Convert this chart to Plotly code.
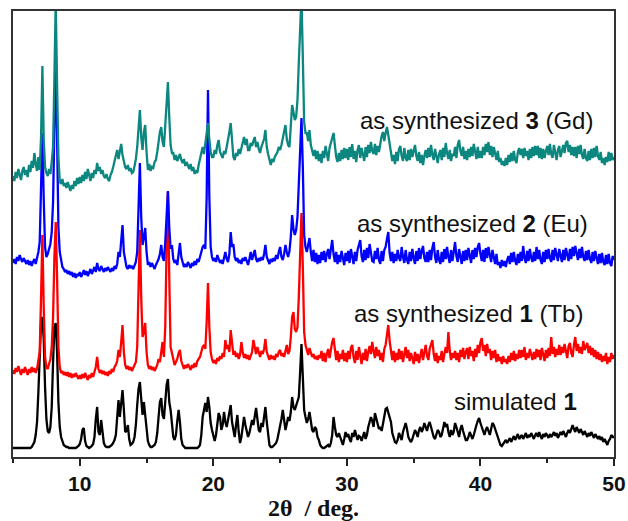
import numpy as np
import plotly.graph_objects as go

# 2-theta grid (degrees), 0.1 deg step, 5..50
two_theta = np.round(np.arange(5.0, 50.0001, 0.1), 1)

# Intensities (stacked, arbitrary units)
gd_counts = [
    281, 276, 285, 279, 288, 283, 277, 286, 290, 282,
    287, 280, 292, 285, 296, 289, 304, 293, 286, 300,
    287, 320, 391, 318, 290, 284, 281, 288, 283, 295,
    310, 380, 455, 372, 300, 276, 273, 278, 271, 274,
    269, 275, 270, 266, 272, 268, 276, 271, 279, 273,
    280, 274, 282, 276, 285, 278, 288, 280, 276, 284,
    279, 287, 283, 294, 286, 290, 283, 287, 281, 279,
    283, 278, 276, 282, 285, 290, 296, 300, 307, 298,
    305, 313, 302, 296, 290, 288, 292, 286, 289, 284,
    285, 291, 298, 310, 330, 347, 320, 307, 325, 332,
    305, 287, 293, 286, 290, 289, 295, 297, 305, 318,
    325, 330, 315, 310, 330, 360, 375, 340, 312, 304,
    304, 297, 302, 296, 300, 303, 297, 294, 298, 291,
    295, 292, 288, 293, 286, 290, 283, 287, 284, 292,
    298, 305, 310, 303, 315, 325, 334, 318, 305, 300,
    300, 307, 303, 312, 317, 305, 301, 299, 306, 303,
    310, 316, 325, 334, 312, 300, 297, 304, 301, 308,
    303, 310, 315, 320, 312, 318, 307, 307, 314, 311,
    316, 320, 310, 315, 308, 304, 310, 315, 318, 327,
    310, 303, 296, 292, 298, 295, 300, 303, 305, 310,
    307, 312, 318, 325, 332, 318, 312, 310, 330, 352,
    345, 337, 340, 357, 395, 440, 460, 400, 335, 324,
    324, 316, 327, 312, 306, 301, 307, 298, 306, 296,
    303, 294, 306, 299, 311, 301, 296, 309, 313, 319,
    324, 308, 300, 295, 304, 296, 307, 298, 309, 299,
    308, 297, 310, 300, 313, 298, 306, 295, 307, 312,
    299, 309, 301, 296, 310, 300, 312, 304, 315, 306,
    303, 313, 302, 311, 305, 316, 321, 325, 316, 324,
    330, 322, 314, 303, 296, 302, 293, 305, 296, 308,
    311, 301, 296, 309, 299, 296, 307, 297, 308, 300,
    306, 312, 301, 296, 305, 294, 302, 292, 301, 307,
    299, 309, 300, 312, 302, 297, 308, 299, 294, 303,
    307, 297, 309, 300, 314, 304, 298, 307, 296, 303,
    301, 310, 299, 312, 317, 306, 301, 310, 298, 306,
    297, 308, 300, 310, 301, 313, 304, 298, 310, 299,
    306, 299, 310, 302, 313, 305, 315, 302, 311, 300,
    310, 301, 297, 306, 295, 299, 292, 296, 291, 299,
    292, 302, 295, 304, 296, 306, 297, 294, 305, 309,
    302, 308, 299, 309, 301, 306, 297, 308, 299, 310,
    301, 311, 302, 311, 299, 309, 298, 308, 299, 306,
    311, 302, 313, 303, 299, 312, 303, 297, 307, 311,
    300, 307, 312, 304, 314, 316, 305, 312, 302, 310,
    301, 310, 299, 311, 303, 312, 302, 298, 308, 299,
    296, 306, 297, 308, 299, 309, 300, 311, 301, 297,
    305, 294, 299, 292, 300, 295, 305, 296, 304, 297,
    300,
]

eu_counts = [
    194, 198, 193, 200, 196, 202, 198, 195, 199, 196,
    193, 197, 192, 196, 191, 195, 198, 193, 199, 205,
    215, 262, 324, 258, 210, 200, 203, 208, 213, 225,
    255, 330, 395, 320, 230, 205, 195, 190, 188, 185,
    187, 183, 186, 182, 185, 180, 184, 179, 183, 181,
    185, 180, 183, 187, 182, 186, 181, 184, 188, 183,
    186, 190, 185, 194, 188, 186, 191, 187, 185, 189,
    186, 190, 187, 185, 189, 186, 191, 188, 193, 205,
    200, 215, 232, 205, 195, 190, 188, 192, 189, 191,
    188, 192, 195, 205, 250, 294, 240, 212, 220, 229,
    205, 192, 195, 190, 194, 191, 188, 192, 195, 198,
    203, 212, 200, 196, 215, 245, 266, 230, 208, 212,
    198, 194, 197, 192, 205, 214, 200, 194, 190, 193,
    190, 195, 192, 189, 194, 191, 196, 192, 198, 195,
    200, 205, 210, 212, 208, 260, 367, 260, 210, 200,
    196, 199, 195, 202, 198, 194, 197, 193, 199, 205,
    198, 195, 203, 225, 210, 213, 200, 196, 199, 194,
    197, 193, 199, 196, 200, 195, 192, 198, 205, 197,
    201, 207, 198, 195, 199, 196, 200, 197, 203, 212,
    200, 196, 193, 198, 195, 199, 196, 202, 198, 205,
    210, 200, 197, 203, 212, 205, 200, 206, 220, 242,
    228, 222, 227, 240, 280, 320, 339, 290, 222, 210,
    205, 212, 219, 205, 196, 207, 195, 204, 193, 202,
    194, 205, 197, 206, 195, 203, 208, 198, 210, 217,
    203, 195, 205, 193, 202, 195, 206, 197, 192, 204,
    196, 206, 194, 208, 199, 193, 205, 196, 207, 212,
    217, 201, 195, 207, 197, 209, 199, 213, 203, 196,
    195, 206, 198, 209, 197, 193, 206, 196, 207, 210,
    218, 225, 204, 196, 205, 194, 203, 196, 207, 199,
    196, 210, 200, 194, 207, 197, 193, 205, 196, 208,
    199, 193, 206, 196, 209, 198, 206, 211, 199, 195,
    205, 195, 207, 197, 209, 215, 200, 194, 207, 197,
    193, 205, 195, 208, 198, 210, 200, 194, 207, 196,
    205, 215, 201, 195, 208, 198, 193, 206, 196, 207,
    197, 209, 199, 194, 207, 198, 209, 200, 210, 214,
    203, 196, 207, 195, 209, 199, 210, 200, 195, 207,
    199, 193, 203, 192, 195, 189, 197, 191, 196, 190,
    197, 201, 193, 204, 195, 205, 196, 192, 203, 194,
    205, 196, 211, 199, 194, 206, 196, 208, 199, 195,
    205, 196, 210, 198, 207, 197, 193, 205, 195, 207,
    198, 208, 199, 195, 207, 197, 209, 200, 196, 208,
    199, 195, 207, 197, 209, 201, 196, 208, 198, 210,
    201, 211, 202, 197, 208, 199, 210, 200, 196, 206,
    197, 207, 198, 194, 205, 196, 206, 197, 193, 203,
    194, 204, 195, 192, 202, 193, 203, 194, 191, 201,
    197,
]

tb_counts = [
    87, 83, 89, 85, 91, 86, 82, 88, 84, 90,
    86, 82, 88, 84, 90, 85, 89, 84, 88, 95,
    105, 160, 222, 150, 100, 90, 88, 93, 98, 110,
    140, 200, 235, 180, 110, 90, 84, 86, 82, 85,
    81, 85, 80, 84, 79, 83, 80, 84, 81, 78,
    82, 78, 83, 79, 84, 80, 77, 82, 79, 84,
    80, 85, 90, 100, 88, 84, 87, 83, 86, 82,
    85, 81, 86, 83, 88, 85, 90, 92, 96, 107,
    100, 115, 132, 105, 92, 88, 91, 87, 90, 86,
    89, 92, 95, 110, 170, 227, 160, 120, 125, 134,
    105, 92, 88, 91, 87, 90, 86, 89, 92, 98,
    95, 105, 115, 100, 130, 210, 265, 180, 110, 104,
    96, 92, 95, 98, 104, 107, 96, 91, 88, 92,
    89, 93, 90, 87, 92, 89, 94, 90, 96, 98,
    100, 105, 110, 112, 108, 135, 174, 130, 105, 98,
    94, 97, 93, 99, 96, 101, 98, 104, 100, 117,
    108, 112, 105, 127, 110, 102, 106, 100, 104, 98,
    102, 115, 105, 99, 103, 98, 102, 97, 101, 105,
    117, 108, 103, 110, 104, 100, 106, 103, 108, 118,
    105, 100, 97, 102, 98, 101, 97, 103, 100, 105,
    107, 101, 104, 100, 108, 112, 103, 106, 120, 140,
    145, 128, 125, 130, 160, 210, 244, 190, 125, 112,
    106, 102, 109, 104, 100, 103, 98, 101, 97, 102,
    99, 106, 96, 104, 95, 103, 108, 99, 110, 115,
    119, 104, 97, 106, 95, 103, 98, 107, 96, 104,
    95, 106, 98, 109, 112, 100, 94, 106, 97, 110,
    99, 93, 104, 97, 108, 96, 105, 111, 103, 115,
    106, 99, 110, 101, 107, 97, 104, 95, 108, 112,
    122, 132, 116, 103, 97, 106, 95, 104, 97, 108,
    98, 106, 95, 103, 110, 99, 107, 96, 104, 99,
    93, 105, 96, 103, 94, 101, 108, 97, 106, 112,
    101, 97, 108, 112, 117, 103, 96, 104, 94, 101,
    97, 106, 95, 103, 110, 104, 125, 106, 97, 104,
    99, 106, 97, 104, 95, 107, 100, 109, 98, 105,
    109, 98, 110, 101, 106, 96, 108, 100, 112, 104,
    115, 119, 106, 112, 101, 113, 104, 108, 97, 106,
    99, 107, 95, 103, 96, 100, 93, 101, 95, 98,
    93, 101, 95, 104, 97, 106, 96, 103, 98, 107,
    99, 107, 100, 110, 97, 104, 99, 108, 101, 97,
    105, 98, 108, 100, 107, 97, 109, 101, 96, 107,
    99, 109, 101, 120, 103, 110, 100, 108, 102, 112,
    102, 110, 104, 113, 105, 99, 111, 114, 104, 100,
    112, 120, 106, 113, 104, 110, 103, 116, 107, 111,
    114, 104, 111, 102, 109, 100, 107, 98, 105, 97,
    103, 95, 101, 96, 104, 93, 100, 95, 104, 98,
    102,
]

sim_counts = [
    9, 9, 9, 9, 9, 9, 9, 9, 9, 9,
    9, 9, 9, 9, 10, 12, 15, 22, 35, 65,
    110, 135, 140, 118, 70, 38, 26, 24, 30, 50,
    95, 130, 134, 105, 55, 30, 20, 15, 12, 11,
    10, 10, 9, 9, 9, 9, 9, 9, 10, 11,
    13, 18, 27, 29, 16, 11, 10, 9, 10, 11,
    13, 20, 38, 50, 25, 22, 37, 28, 14, 11,
    10, 10, 10, 11, 12, 14, 17, 22, 38, 57,
    40, 52, 67, 48, 25, 26, 32, 18, 12, 13,
    15, 20, 32, 52, 68, 75, 53, 42, 55, 44,
    27, 16, 12, 10, 10, 11, 12, 15, 24, 40,
    55, 59, 42, 38, 55, 72, 78, 55, 47, 32,
    20, 17, 22, 36, 47, 35, 18, 12, 10, 9,
    9, 9, 9, 9, 9, 9, 9, 9, 9, 10,
    12, 22, 40, 47, 54, 45, 60, 50, 34, 27,
    20, 16, 22, 35, 44, 40, 27, 32, 45, 35,
    30, 37, 44, 52, 35, 25, 20, 32, 42, 25,
    14, 20, 33, 40, 32, 25, 20, 24, 30, 37,
    32, 40, 49, 38, 27, 25, 34, 30, 42, 50,
    35, 20, 12, 10, 10, 11, 13, 14, 18, 24,
    30, 38, 47, 35, 27, 33, 40, 36, 45, 60,
    50, 47, 51, 54, 60, 85, 113, 80, 47, 40,
    34, 38, 45, 36, 27, 25, 30, 28, 20, 17,
    12, 10, 9, 9, 10, 11, 12, 10, 14, 22,
    40, 30, 22, 20, 24, 20, 15, 12, 18, 25,
    20, 23, 18, 15, 24, 20, 27, 22, 17, 21,
    20, 16, 20, 25, 18, 22, 30, 35, 40, 36,
    30, 44, 38, 32, 28, 30, 26, 33, 40, 48,
    49, 45, 40, 35, 24, 18, 15, 14, 17, 24,
    20, 17, 25, 30, 34, 28, 20, 17, 15, 18,
    22, 27, 24, 20, 27, 30, 25, 28, 34, 30,
    26, 32, 35, 30, 24, 20, 18, 22, 27, 25,
    20, 22, 28, 35, 30, 33, 25, 20, 27, 22,
    25, 34, 30, 24, 20, 28, 32, 26, 20, 17,
    17, 20, 25, 22, 18, 22, 28, 32, 36, 39,
    34, 30, 25, 22, 27, 30, 26, 22, 28, 34,
    32, 28, 24, 20, 16, 12, 11, 13, 15, 17,
    14, 16, 19, 15, 18, 21, 17, 20, 23, 18,
    20, 22, 18, 21, 24, 19, 22, 20, 24, 21,
    18, 22, 24, 20, 25, 21, 18, 23, 20, 24,
    21, 19, 23, 20, 22, 25, 21, 24, 19, 22,
    25, 22, 26, 23, 20, 24, 27, 24, 29, 32,
    28, 25, 30, 27, 24, 28, 25, 22, 26, 23,
    20, 24, 21, 25, 22, 19, 23, 20, 18, 21,
    17, 20, 15, 18, 14, 12, 16, 18, 22, 20,
    20,
]

series_names = ["simulated 1", "as synthesized 1 (Tb)", "as synthesized 2 (Eu)", "as synthesized 3 (Gd)"]
series_data = [sim_counts, tb_counts, eu_counts, gd_counts]
series_colors = ["#000000", "#ff0000", "#0000ff", "#0b877f"]

label_texts = ["simulated <b>1</b>", "as synthesized <b>1</b> (Tb)",
               "as synthesized <b>2</b> (Eu)", "as synthesized <b>3</b> (Gd)"]
label_x = [42.65, 39.13, 39.43, 39.73]
label_y = [56, 144, 234, 337]

tick_values = [10, 20, 30, 40, 50]

fig = go.Figure()
for name, ys, col in zip(series_names, series_data, series_colors):
    fig.add_trace(go.Scatter(x=two_theta, y=ys, mode="lines", name=name, hoverinfo="skip",
                             line=dict(color=col, width=2.3), showlegend=False))

for t, lx, ly in zip(label_texts, label_x, label_y):
    fig.add_annotation(x=lx, y=ly, xref="x", yref="y", text=t, showarrow=False,
                       xanchor="center", yanchor="middle",
                       font=dict(family="Liberation Sans, Arial", size=24, color="#111"))

fig.update_layout(
    width=628, height=521,
    margin=dict(l=13, r=14, t=11, b=64),
    paper_bgcolor="white", plot_bgcolor="white",
    hovermode=False,
    xaxis=dict(range=[5, 50], tickvals=tick_values, ticks="outside", ticklen=7, tickwidth=1.5,
               tickcolor="#222", showline=True, linecolor="#333", linewidth=1.5, mirror=True,
               showgrid=False, zeroline=False, automargin=False,
               minor=dict(ticks="outside", ticklen=4, tickwidth=1.5, tickcolor="#222",
                          tick0=5, dtick=5),
               tickfont=dict(family="Liberation Sans, Arial", size=21, color="#111", weight="bold"),
               title=dict(text="2θ  / deg.", standoff=5,
                          font=dict(family="Liberation Serif, Times New Roman", size=24,
                                    color="#111", weight="bold"))),
    yaxis=dict(range=[0, 446], showticklabels=False, ticks="", showgrid=False, zeroline=False,
               showline=True, linecolor="#333", linewidth=1.5, mirror=True, automargin=False),
)

# remove the default page margin so the figure sits at the window's top-left corner
fig.write_html("out.html", config={"displayModeBar": False},
               post_script="document.body.style.margin='0';document.body.style.overflow='hidden';")
